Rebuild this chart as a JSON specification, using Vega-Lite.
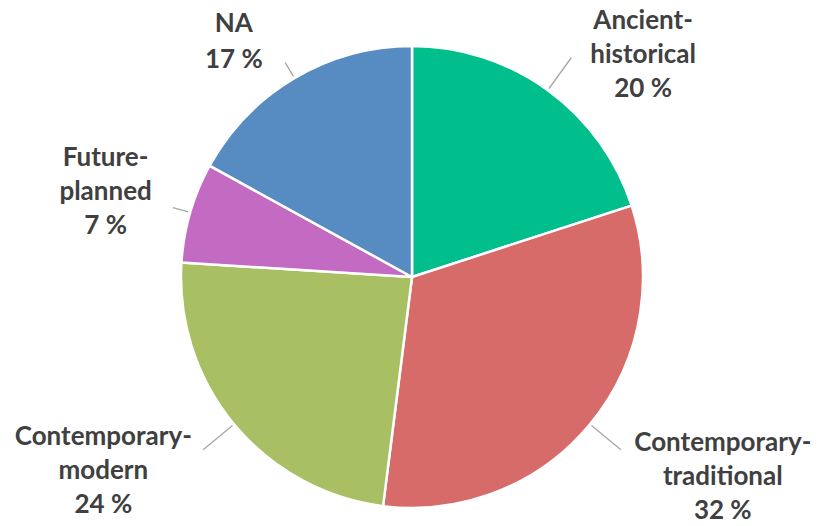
{
  "$schema": "https://vega.github.io/schema/vega-lite/v6.json",
  "width": 820,
  "height": 498,
  "autosize": "none",
  "padding": {"top": 28, "bottom": 0, "left": 2, "right": 0},
  "background": "white",
  "config": {"view": {"stroke": null}},
  "data": {
    "values": [
      {"category": "Ancient-historical", "label": "Ancient-\nhistorical", "value": 20, "order": 1},
      {"category": "Contemporary-traditional", "label": "Contemporary-\ntraditional", "value": 32, "order": 2},
      {"category": "Contemporary-modern", "label": "Contemporary-\nmodern", "value": 24, "order": 3},
      {"category": "Future-planned", "label": "Future-\nplanned", "value": 7, "order": 4},
      {"category": "NA", "label": "NA", "value": 17, "order": 5}
    ]
  },
  "transform": [
    {"window": [{"op": "sum", "field": "value", "as": "cum"}], "sort": [{"field": "order"}]},
    {"calculate": "datum.cum - datum.value / 2", "as": "mid"},
    {"calculate": "datum.label + '\\n' + datum.value + ' %'", "as": "txt"}
  ],
  "layer": [
    {
      "mark": {"type": "arc", "outerRadius": 231, "stroke": "white", "strokeWidth": 2.5},
      "encoding": {
        "theta": {"field": "value", "type": "quantitative", "stack": true, "scale": {"domain": [0, 100]}},
        "order": {"field": "order", "type": "quantitative"},
        "color": {
          "field": "category",
          "type": "nominal",
          "scale": {
            "domain": ["Ancient-historical", "Contemporary-traditional", "Contemporary-modern", "Future-planned", "NA"],
            "range": ["#00BF8C", "#D76B69", "#A8BF63", "#C36BC3", "#578CC3"]
          },
          "legend": null
        }
      }
    },
    {
      "transform": [{"filter": "datum.order <= 3"}],
      "mark": {"type": "arc", "filled": false, "stroke": "#A6A6A6", "strokeWidth": 1.3},
      "encoding": {
        "theta": {"field": "mid", "type": "quantitative", "stack": null, "scale": {"domain": [0, 100]}},
        "theta2": {"field": "mid"},
        "radius": {"value": 271},
        "radius2": {"value": 233}
      }
    },
    {
      "transform": [{"filter": "datum.order > 3"}],
      "mark": {"type": "arc", "filled": false, "stroke": "#A6A6A6", "strokeWidth": 1.3},
      "encoding": {
        "theta": {"field": "mid", "type": "quantitative", "stack": null, "scale": {"domain": [0, 100]}},
        "theta2": {"field": "mid"},
        "radius": {"value": 249},
        "radius2": {"value": 233}
      }
    },
    {
      "transform": [{"filter": "datum.order == 1"}],
      "mark": {"type": "text", "font": "Lato", "fontWeight": "bold", "fontSize": 26, "lineHeight": 34, "lineBreak": "\n", "align": "center", "baseline": "middle", "color": "#404040", "dx": 46, "dy": -1},
      "encoding": {
        "theta": {"field": "mid", "type": "quantitative", "stack": null, "scale": {"domain": [0, 100]}},
        "radius": {"value": 315},
        "text": {"field": "txt"}
      }
    },
    {
      "transform": [{"filter": "datum.order == 2"}],
      "mark": {"type": "text", "font": "Lato", "fontWeight": "bold", "fontSize": 26, "lineHeight": 34, "lineBreak": "\n", "align": "center", "baseline": "middle", "color": "#404040", "dx": 28, "dy": -68},
      "encoding": {
        "theta": {"field": "mid", "type": "quantitative", "stack": null, "scale": {"domain": [0, 100]}},
        "radius": {"value": 367},
        "text": {"field": "txt"}
      }
    },
    {
      "transform": [{"filter": "datum.order == 3"}],
      "mark": {"type": "text", "font": "Lato", "fontWeight": "bold", "fontSize": 26, "lineHeight": 34, "lineBreak": "\n", "align": "center", "baseline": "middle", "color": "#404040", "dx": -29, "dy": -71},
      "encoding": {
        "theta": {"field": "mid", "type": "quantitative", "stack": null, "scale": {"domain": [0, 100]}},
        "radius": {"value": 363},
        "text": {"field": "txt"}
      }
    },
    {
      "transform": [{"filter": "datum.order == 4"}],
      "mark": {"type": "text", "font": "Lato", "fontWeight": "bold", "fontSize": 26, "lineHeight": 34, "lineBreak": "\n", "align": "center", "baseline": "middle", "color": "#404040", "dx": -2, "dy": -31},
      "encoding": {
        "theta": {"field": "mid", "type": "quantitative", "stack": null, "scale": {"domain": [0, 100]}},
        "radius": {"value": 317},
        "text": {"field": "txt"}
      }
    },
    {
      "transform": [{"filter": "datum.order == 5"}],
      "mark": {"type": "text", "font": "Lato", "fontWeight": "bold", "fontSize": 26, "lineHeight": 36, "lineBreak": "\n", "align": "center", "baseline": "middle", "color": "#404040", "dx": -29, "dy": -1},
      "encoding": {
        "theta": {"field": "mid", "type": "quantitative", "stack": null, "scale": {"domain": [0, 100]}},
        "radius": {"value": 293},
        "text": {"field": "txt"}
      }
    }
  ]
}
